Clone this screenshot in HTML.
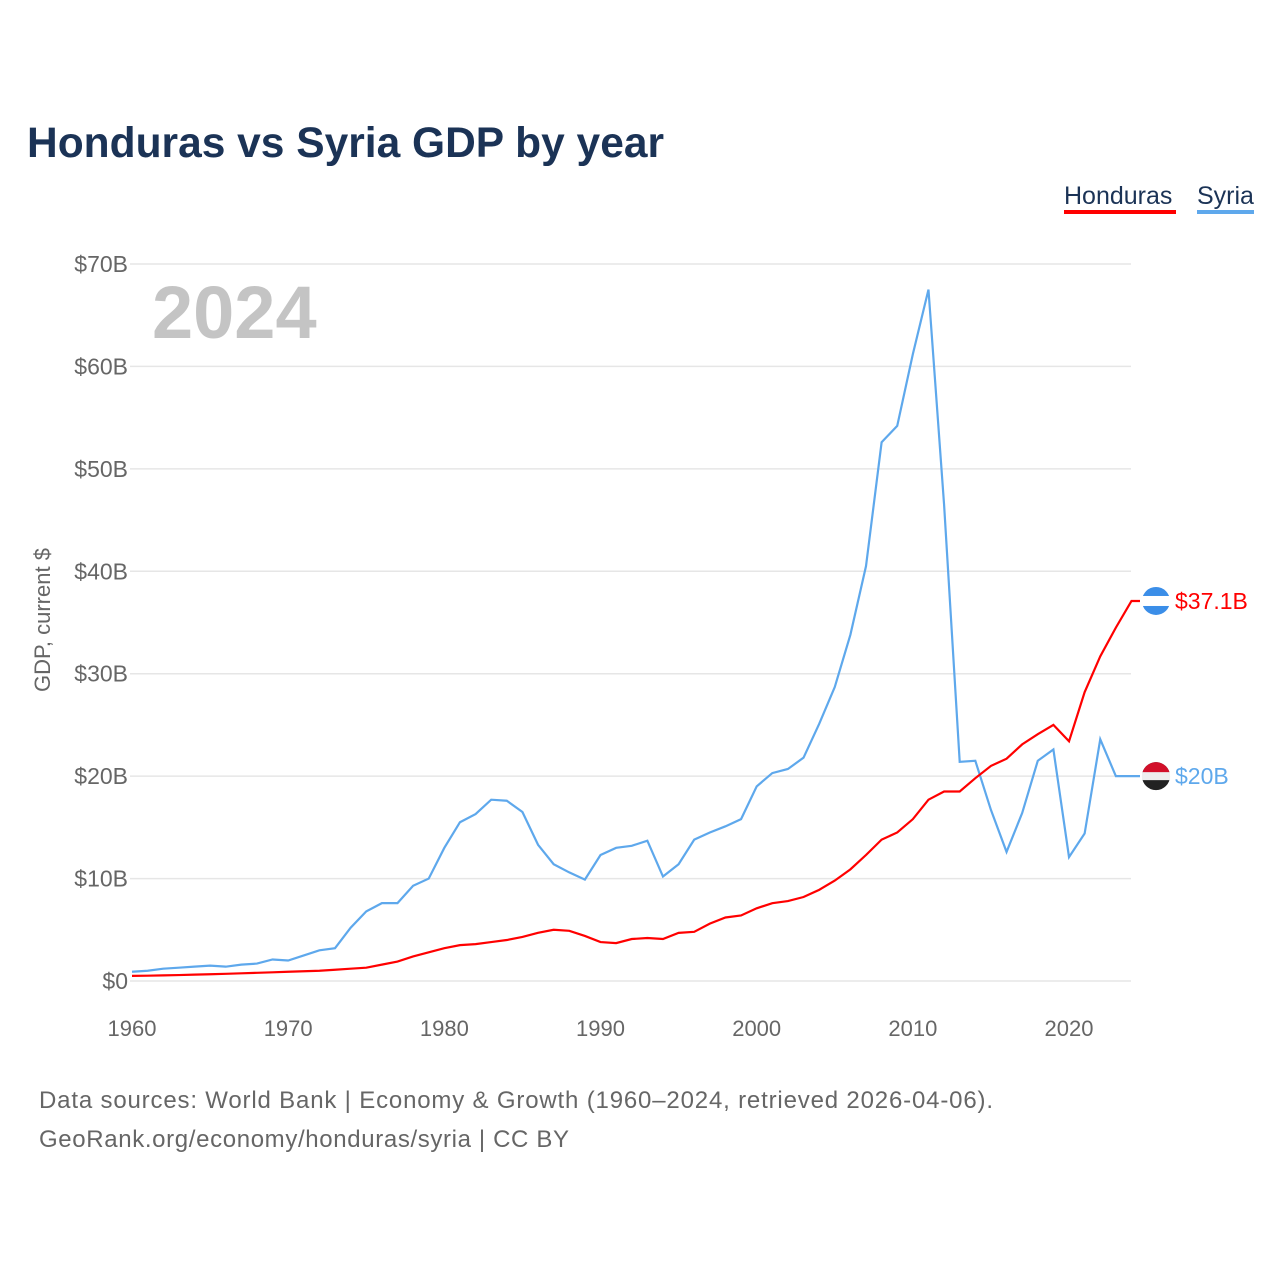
<!DOCTYPE html>
<html><head><meta charset="utf-8"><style>
body{margin:0;background:#fff;width:1280px;height:1280px;overflow:hidden;font-family:"Liberation Sans",sans-serif}
</style></head><body>
<svg width="1280" height="1280" xmlns="http://www.w3.org/2000/svg">
<text x="27" y="157" font-size="42.5" font-weight="bold" fill="#1b3356">Honduras vs Syria GDP by year</text>
<g><text x="1064" y="204" font-size="25" fill="#1b3356">Honduras</text><rect x="1064" y="210" width="112" height="4" fill="#ff0000"/></g>
<g><text x="1197" y="204" font-size="25" fill="#1b3356">Syria</text><rect x="1197" y="210" width="57" height="4" fill="#5ea8ec"/></g>
<text x="152" y="338" font-size="74" font-weight="bold" fill="#c4c4c4">2024</text>
<g id="grid"></g><g id="xt"></g>
<text transform="translate(50,620) rotate(-90)" text-anchor="middle" font-size="22" fill="#666">GDP, current $</text>
<g id="lines"></g>
<text x="39" y="1108" font-size="24" fill="#666" textLength="954">Data sources: World Bank | Economy &amp; Growth (1960–2024, retrieved 2026-04-06).</text>
<text x="39" y="1147" font-size="24" fill="#666" textLength="530">GeoRank.org/economy/honduras/syria | CC BY</text>
</svg>
<script>
const years=[];for(let y=1960;y<=2024;y++)years.push(y);
const honduras=[0.5,0.52,0.55,0.58,0.62,0.66,0.7,0.75,0.8,0.85,0.9,0.95,1.0,1.1,1.2,1.3,1.6,1.9,2.4,2.8,3.2,3.5,3.6,3.8,4.0,4.3,4.7,5.0,4.9,4.4,3.8,3.7,4.1,4.2,4.1,4.7,4.8,5.6,6.2,6.4,7.1,7.6,7.8,8.2,8.9,9.8,10.9,12.3,13.8,14.5,15.8,17.7,18.5,18.5,19.8,21.0,21.7,23.1,24.1,25.0,23.4,28.2,31.7,34.5,37.1];
const syria=[0.9,1.0,1.2,1.3,1.4,1.5,1.4,1.6,1.7,2.1,2.0,2.5,3.0,3.2,5.2,6.8,7.6,7.6,9.3,10.0,13.0,15.5,16.3,17.7,17.6,16.5,13.3,11.4,10.6,9.9,12.3,13.0,13.2,13.7,10.2,11.4,13.8,14.5,15.1,15.8,19.0,20.3,20.7,21.8,25.1,28.7,33.8,40.5,52.6,54.2,61.2,67.5,46.5,21.4,21.5,16.7,12.6,16.4,21.5,22.6,12.1,14.4,23.6,20.0,20.0];
const yTicks=[0,10,20,30,40,50,60,70];
const xTicks=[1960,1970,1980,1990,2000,2010,2020];
const NS="http://www.w3.org/2000/svg";
const X=y=>132+(y-1960)*15.617, Y=v=>981-v*10.243;
function mk(t,a,p){const e=document.createElementNS(NS,t);for(const k in a)e.setAttribute(k,a[k]);p.appendChild(e);return e;}
const g=document.getElementById('grid');
yTicks.forEach(v=>{const l=mk('line',{x1:130,x2:1131,y1:Y(v),y2:Y(v),stroke:'#e6e6e6','stroke-width':1.5},g);


const t=mk('text',{x:128,y:Y(v)+8,'text-anchor':'end','font-size':23,fill:'#666'},g);t.textContent=v?'$'+v+'B':'$0';

});
const xt=document.getElementById('xt');
xTicks.forEach(v=>{const t=mk('text',{x:X(v),y:1036,'text-anchor':'middle','font-size':22,fill:'#666'},xt);t.textContent=v;

});
const L=document.getElementById('lines');
function series(d,c,name,label){
const p=mk('path',{d:'M'+d.map((v,i)=>X(years[i])+','+Y(v)).join('L')+'L1140,'+Y(d[d.length-1]),fill:'none',stroke:c,'stroke-width':2.2},L);


const cy=Y(d[d.length-1]);
const f=mk('circle',{cx:1156,cy:cy,r:14,fill:name=='honduras'?'#3b8ee8':'#222'},L);


if(name=='honduras'){mk('rect',{x:1142,y:cy-5,width:28,height:10,fill:'#fff'},L);}
else{mk('path',{d:`M1142,${cy} A14,14 0 0 1 1170,${cy} Z`,fill:'#d2102a'},L);mk('rect',{x:1142,y:cy-4,width:28,height:8,fill:'#eee'},L);}
const t=mk('text',{x:1175,y:cy+8,'font-size':23,fill:c},L);t.textContent=label;

}
series(syria,'#5ea8ec','syria','$'+syria[syria.length-1]+'B');
series(honduras,'#ff0000','honduras','$'+honduras[honduras.length-1]+'B');
</script>
</body></html>
